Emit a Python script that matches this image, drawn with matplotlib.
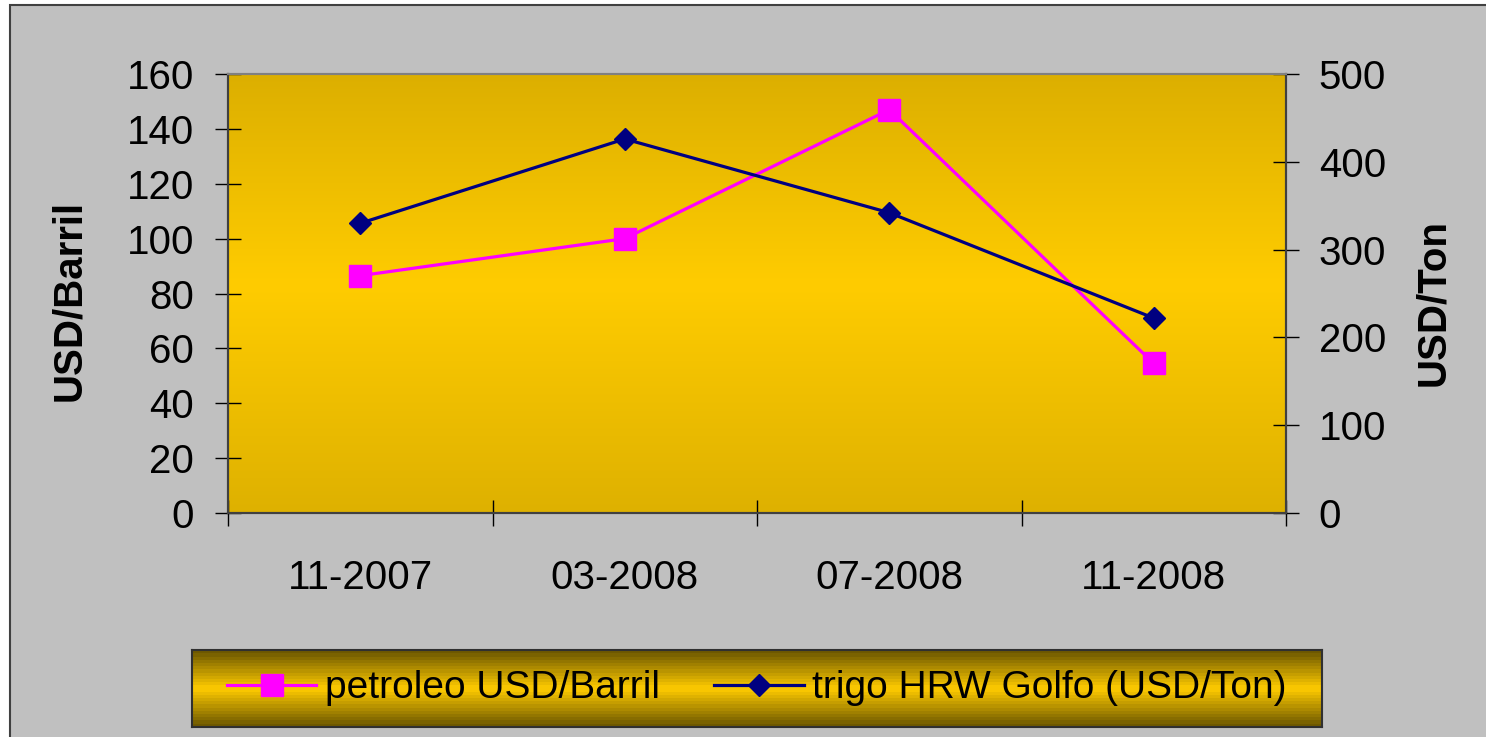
import numpy as np
import matplotlib
matplotlib.use("Agg")
import matplotlib.pyplot as plt
from matplotlib.colors import LinearSegmentedColormap
from matplotlib.lines import Line2D
from matplotlib.patches import Rectangle

plt.rcParams['font.family'] = ['Liberation Sans', 'DejaVu Sans']

# data
categories = ['11-2007', '03-2008', '07-2008', '11-2008']
petroleo = [86.5, 100, 147, 54.5]      # USD/Barril (left axis)
trigo = [330, 426, 342, 222]           # USD/Ton (right axis)
left_ticks = [0, 20, 40, 60, 80, 100, 120, 140, 160]
right_ticks = [0, 100, 200, 300, 400, 500]

W, H = 1486, 737
fig = plt.figure(figsize=(W / 100, H / 100), dpi=100)
fig.patch.set_facecolor('white')

# grey chart area with border at left/top
fig.patches.append(Rectangle((10 / W, -0.01), 1.02, 1 - 5 / H + 0.01,
                             transform=fig.transFigure, facecolor='#c0c0c0',
                             edgecolor='#404040', linewidth=1.5, zorder=-10))

ax = fig.add_axes([228 / W, 1 - 513 / H, (1286 - 228) / W, (513 - 74) / H])
ax2 = ax.twinx()

# gold gradient background
plot_cmap = LinearSegmentedColormap.from_list(
    'gold', [(0, '#dcaf00'), (0.48, '#ffcc00'), (1, '#deb100')])
grad = np.linspace(0, 1, 256).reshape(-1, 1)
ax.imshow(grad, cmap=plot_cmap, aspect='auto', extent=[0, 1, 0, 1],
          transform=ax.transAxes, zorder=0, interpolation='bilinear')

x = np.arange(len(categories))
ax.plot(x, petroleo, color='#ff00ff', lw=2.3, marker='s', ms=16,
        markeredgecolor='#ff00ff', zorder=3)
ax2.plot(x, trigo, color='#000080', lw=2.3, marker='D', ms=11.5,
         markeredgecolor='#000080', zorder=3)

ax.set_xlim(-0.5, len(categories) - 0.5)
ax.set_ylim(0, 160)
ax2.set_ylim(0, 500)
ax.set_yticks(left_ticks)
ax2.set_yticks(right_ticks)
ax.set_xticks(np.arange(len(categories) + 1) - 0.5)
ax.set_xticklabels([])
ax.set_xticks(x, minor=True)
ax.set_xticklabels(categories, minor=True)
ax.tick_params(axis='x', which='minor', length=0, pad=33, labelsize=29)
ax.tick_params(axis='x', which='major', direction='inout', length=19, width=1)
ax.tick_params(axis='y', direction='inout', length=19, width=1, pad=15, labelsize=29)
ax2.tick_params(axis='y', direction='inout', length=19, width=1, pad=14, labelsize=29)

for a in (ax, ax2):
    for s in a.spines.values():
        s.set_color('#404040')
        s.set_linewidth(1.5)
ax.spines['top'].set_color('#808080')
ax2.spines['top'].set_color('#808080')

ax.set_ylabel('USD/Barril', fontsize=29, fontweight='bold')
ax.yaxis.set_label_coords(-0.132, 0.485)
ax2.set_ylabel('USD/Ton', fontsize=29, fontweight='bold', rotation=90)
ax2.yaxis.set_label_coords(1.121, 0.48)

# legend box with banded gradient
lax = fig.add_axes([192 / W, 1 - 727 / H, (1322 - 192) / W, (727 - 650) / H])
leg_cmap = LinearSegmentedColormap.from_list(
    'legold', [(0, '#6e5800'), (0.5, '#ffcc00'), (1, '#6e5800')], N=24)
lax.imshow(grad, cmap=leg_cmap, aspect='auto', extent=[0, 1, 0, 1],
           interpolation='nearest')
lax.set_xlim(0, 1)
lax.set_ylim(0, 1)
lax.set_xticks([])
lax.set_yticks([])
for s in lax.spines.values():
    s.set_color('#303030')
    s.set_linewidth(1.5)

handles = [
    Line2D([], [], color='#ff00ff', lw=2.3, marker='s', ms=16),
    Line2D([], [], color='#000080', lw=2.3, marker='D', ms=11.5),
]
lax.legend(handles, ['petroleo USD/Barril', 'trigo HRW Golfo (USD/Ton)'],
           loc='center', ncol=2, frameon=False, fontsize=28,
           handlelength=2.3, handletextpad=0.22, columnspacing=1.4)

fig.savefig('out.png', dpi=100, facecolor=fig.get_facecolor())
